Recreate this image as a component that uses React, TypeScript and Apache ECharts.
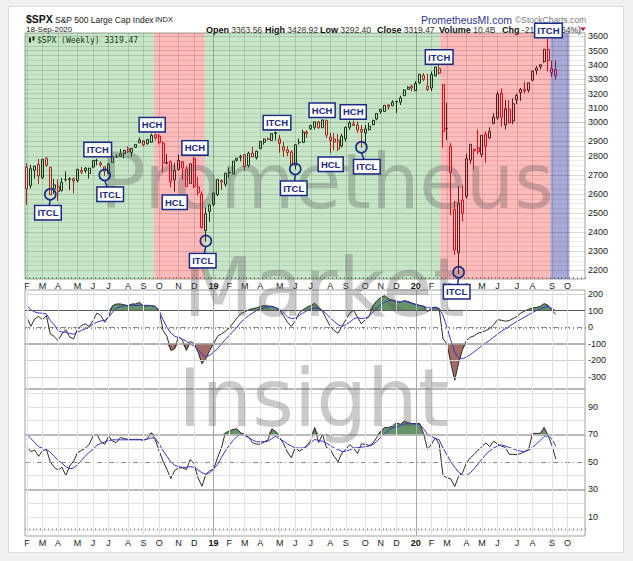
import React, { useEffect, useRef } from "react";
import * as echarts from "echarts";

// ---------------- data: weekly S&P 500 bars, first bar = week ending Fri 9-Feb-2018 ----------------
const FIRST_WEEK_UTC = Date.UTC(2018, 1, 9);
const SLOT_COUNT = 144; // 137 weekly bars + empty future weeks
const PREV_CLOSE = 2762.13; // close of the week before the first bar

const opens = [
  2741, 2637, 2723, 2757, 2681, 2791, 2741, 2619, 2633, 2610,
  2670, 2675, 2675, 2665, 2722, 2735, 2705, 2742, 2780, 2765,
  2743, 2705, 2769, 2801, 2804, 2821, 2849, 2827, 2857, 2884,
  2896, 2879, 2888, 2933, 2926, 2882, 2763, 2773, 2669, 2726,
  2773, 2730, 2649, 2790, 2630, 2590, 2401, 2499, 2535, 2588,
  2658, 2645, 2712, 2702, 2781, 2798, 2814, 2751, 2823, 2796,
  2849, 2888, 2908, 2899, 2941, 2909, 2840, 2842, 2830, 2752,
  2886, 2887, 2951, 2971, 2980, 3014, 2977, 3023, 2898, 2907,
  2901, 2866, 2909, 2980, 3001, 2994, 2967, 2944, 2965, 2996,
  3032, 3078, 3080, 3122, 3117, 3143, 3141, 3183, 3226, 3247,
  3217, 3271, 3321, 3247, 3235, 3318, 3370, 3258, 2974, 2864,
  2509, 2291, 2559, 2578, 2782, 2846, 2855, 2815, 2936, 2914,
  3004, 3039, 3200, 2994, 3094, 3019, 3155, 3205, 3224, 3220,
  3288, 3356, 3381, 3418, 3507, 3370, 3363.56,
];
const highs = [
  2763, 2754, 2748, 2789, 2787, 2802, 2741, 2674, 2672, 2680,
  2717, 2684, 2683, 2733, 2743, 2742, 2737, 2780, 2790, 2775,
  2747, 2764, 2804, 2816, 2848, 2841, 2863, 2855, 2876, 2917,
  2900, 2908, 2941, 2940, 2939, 2894, 2817, 2778, 2766, 2815,
  2776, 2747, 2761, 2800, 2685, 2607, 2520, 2538, 2598, 2675,
  2672, 2709, 2739, 2776, 2794, 2813, 2817, 2831, 2860, 2838,
  2893, 2911, 2918, 2940, 2954, 2931, 2891, 2864, 2841, 2876,
  2911, 2964, 2962, 2996, 3014, 3018, 3028, 3028, 2944, 2943,
  2939, 2940, 2986, 3021, 3022, 3016, 2993, 2993, 3008, 3027,
  3066, 3098, 3120, 3128, 3154, 3150, 3183, 3226, 3248, 3258,
  3282, 3330, 3338, 3333, 3348, 3385, 3394, 3260, 3137, 2883,
  2554, 2637, 2641, 2819, 2879, 2846, 2965, 2932, 2955, 2980,
  3069, 3212, 3233, 3156, 3155, 3166, 3198, 3235, 3279, 3272,
  3353, 3388, 3400, 3509, 3588, 3426, 3428.92,
];
const lows = [
  2533, 2622, 2676, 2647, 2675, 2743, 2586, 2593, 2554, 2605,
  2660, 2612, 2595, 2655, 2701, 2707, 2676, 2735, 2752, 2742,
  2692, 2699, 2765, 2795, 2800, 2791, 2824, 2802, 2853, 2884,
  2864, 2874, 2886, 2903, 2874, 2711, 2755, 2628, 2604, 2722,
  2671, 2631, 2649, 2622, 2583, 2409, 2346, 2444, 2525, 2580,
  2613, 2631, 2682, 2702, 2773, 2775, 2722, 2739, 2800, 2785,
  2848, 2873, 2900, 2898, 2900, 2825, 2801, 2805, 2751, 2729,
  2874, 2883, 2913, 2963, 2966, 2970, 2975, 2914, 2822, 2840,
  2835, 2856, 2892, 2964, 2990, 2946, 2856, 2873, 2959, 2991,
  3023, 3066, 3078, 3091, 3115, 3070, 3122, 3183, 3226, 3212,
  3214, 3263, 3281, 3214, 3214, 3315, 3328, 2856, 2902, 2479,
  2281, 2192, 2447, 2567, 2761, 2727, 2816, 2798, 2767, 2910,
  2999, 3025, 2984, 2966, 3004, 2999, 3127, 3149, 3200, 3204,
  3284, 3327, 3363, 3410, 3350, 3310, 3292.4,
];
const closes = [
  2620, 2732, 2747, 2691, 2787, 2752, 2588, 2641, 2604, 2656,
  2670, 2670, 2663, 2728, 2713, 2721, 2735, 2779, 2779.4, 2755,
  2718, 2760, 2801, 2802, 2819, 2840, 2833, 2850, 2875, 2902,
  2872, 2905, 2930, 2914, 2886, 2767, 2768, 2659, 2723, 2781,
  2736, 2633, 2760, 2633, 2600, 2417, 2486, 2532, 2596, 2671,
  2665, 2707, 2708, 2776, 2793, 2804, 2743, 2822, 2801, 2834,
  2893, 2907, 2905, 2940, 2946, 2881, 2860, 2826, 2752, 2873,
  2887, 2950, 2942, 2990, 3014, 2977, 3026, 2932, 2919, 2889,
  2847, 2926, 2979, 3007, 2992, 2962, 2952, 2970, 2986, 3023,
  3067, 3093, 3120, 3110, 3141, 3146, 3169, 3221, 3240, 3235,
  3265, 3330, 3295, 3226, 3328, 3380, 3338, 2954, 2972, 2711,
  2305, 2541, 2489, 2790, 2875, 2837, 2831, 2930, 2864, 2955,
  3044, 3194, 3041, 3098, 3009, 3130, 3185, 3225, 3216, 3271,
  3351, 3373, 3397, 3508, 3427, 3341, 3319.47,
];

// middle panel oscillator (black) and its signal (blue)
const cciLine = [
  60, 5, 50, 65, 45, 70, -40, -55, -80, -40,
  -15, -60, -70, -10, 10, 20, 5, 40, 85, 70,
  30, 65, 130, 140, 140, 135, 130, 140, 140, 150,
  125, 130, 130, 125, 100, -20, -55, -140, -130, -55,
  -80, -140, -85, -100, -150, -220, -190, -140, -100, -55,
  -40, -25, -5, 25, 55, 82, 92, 105, 112, 116,
  125, 130, 128, 125, 118, 100, 68, 30, 5, 38,
  85, 105, 120, 132, 144, 122, 95, 50, 5, -20,
  -36, 5, 45, 85, 102, 60, 20, 45, 65, 130,
  160, 180, 190, 172, 160, 155, 150, 160, 155, 145,
  138, 132, 126, 92, 114, 122, 110, -70, -100, -215,
  -320, -215, -135, -80, -60, -52, -35, -30, -20, -8,
  14, 45, 42, 36, 40, 52, 65, 85, 98, 108,
  116, 119, 126, 142, 132, 100, 78,
];
const cciSignal = [
  130, 105, 92, 86, 84, 80, 40, 15, -20, -30,
  -30, -38, -42, -30, -20, -10, 0, 20, 30, 38,
  40, 60, 90, 115, 125, 128, 130, 130, 130, 132,
  132, 132, 130, 125, 100, 45, 0, -35, -55, -62,
  -72, -85, -100, -115, -135, -160, -178, -170, -150, -130,
  -100, -75, -50, -25, 0, 30, 50, 70, 85, 100,
  110, 118, 122, 124, 118, 108, 85, 62, 52, 55,
  70, 85, 100, 110, 116, 112, 100, 80, 55, 35,
  15, 5, 15, 30, 50, 58, 52, 55, 65, 90,
  115, 135, 150, 160, 165, 158, 152, 158, 150, 142,
  136, 130, 126, 118, 116, 116, 114, 70, 0, -80,
  -150, -185, -190, -180, -165, -148, -130, -112, -95, -78,
  -60, -42, -25, -10, 5, 20, 35, 48, 62, 75,
  88, 100, 110, 120, 125, 112, 98,
];

// bottom panel oscillator (black) and its signal (blue)
const rsiLine = [
  61, 57.5, 58.5, 54, 58, 59, 50, 46, 44, 46,
  40, 47, 50.5, 56.6, 58.3, 59.8, 62.7, 68.8, 70, 64.6,
  62.7, 68.8, 65, 64, 67.6, 67, 66.3, 66.3, 66.3, 66.3,
  65.6, 67, 71.2, 66.3, 57.8, 50.5, 44.4, 37.8, 43.7, 45.6,
  45.6, 44.4, 51.7, 48.5, 38.3, 32.2, 40.7, 43.7, 44.4, 53,
  60, 71, 72.5, 73.5, 74, 71, 70, 68, 64, 62.8,
  63, 64.5, 66, 74, 72, 67.5, 63, 57, 53, 60.5,
  57.8, 59.5, 62, 65.5, 75, 64, 70, 60.5, 59, 54,
  50, 56.5, 59, 62.5, 60, 56, 63, 62.8, 61.8, 63.5,
  68, 72.5, 75, 75, 76, 78.5, 77.3, 79.5, 78.5, 77.8,
  77.8, 77.8, 70.5, 59, 62.7, 67.5, 63, 40, 38.5, 37.5,
  32, 39.5, 42, 49, 52.8, 55.4, 58.5, 61, 63.8, 61,
  65, 63, 61.5, 60.5, 55.5, 55.4, 55.4, 56, 57.5, 59,
  70.7, 70.7, 70.7, 75, 69, 62, 52,
];
const rsiSignal = [
  70, 67, 64, 61, 60, 59, 57, 54, 51, 49,
  46.5, 45, 45.5, 48, 51, 54, 57, 59, 62, 63.5,
  64.5, 65.5, 66, 66, 66, 66, 66, 66, 66, 66,
  66, 66.5, 67.5, 67, 63, 58, 54, 50, 47.5, 46.5,
  46, 46, 46.5, 46, 44, 42, 41, 42, 45, 48,
  53, 58, 62, 65.5, 68.5, 70, 69, 67.6, 66, 64.6,
  64.6, 64.6, 65, 67, 68.5, 66.5, 65, 63, 61.5, 60.2,
  60, 60, 61, 64, 66.3, 65.5, 65, 63.5, 62, 60,
  59, 57.5, 57.8, 58.5, 60, 60.3, 60.7, 61, 61.5, 62.5,
  65, 68, 70.5, 73, 74.5, 75.5, 76, 77.6, 77.7, 77.6,
  77.5, 77.3, 74, 70, 68.5, 67, 66, 60, 55, 50,
  46, 42.5, 40.5, 39.8, 42, 45, 48.5, 52, 55.4, 58,
  60, 61.5, 62.2, 61.5, 60.5, 59.5, 58.3, 57.8, 57.4, 58.5,
  60.5, 63, 65.5, 68.5, 69, 66.5, 61.5,
];

const priceTicks = [2200, 2300, 2400, 2500, 2600, 2700, 2800, 2900, 3000, 3100, 3200, 3300, 3400, 3500, 3600];
const cciTicks = [200, 100, 0, -100, -200, -300];
const rsiTicks = [90, 70, 50, 30, 10];

// background phases (bar-index boundaries)
const regions = [
  { from: -0.5, to: 32.7, tone: "bull" },
  { from: 32.7, to: 45.7, tone: "bear" },
  { from: 45.7, to: 106.3, tone: "bull" },
  { from: 106.3, to: 134.6, tone: "bear" },
  { from: 134.6, to: 139.5, tone: "watch" },
];

// cycle annotations: box at (bar index, price), optional ring on a bar low
const annotations: { text: string; at: number; price: number; ring?: number; ringPrice?: number }[] = [
  { text: "ITCL", at: 5.4, price: 2492, ring: 6, ringPrice: 2590 },
  { text: "ITCH", at: 18.2, price: 2844 },
  { text: "ITCL", at: 21.4, price: 2590, ring: 20, ringPrice: 2697 },
  { text: "HCH", at: 32.2, price: 2996 },
  { text: "HCL", at: 38.0, price: 2547 },
  { text: "HCH", at: 43.2, price: 2854 },
  { text: "ITCL", at: 45.2, price: 2254, ring: 46, ringPrice: 2349 },
  { text: "ITCH", at: 64.3, price: 3009 },
  { text: "ITCL", at: 68.6, price: 2623, ring: 69, ringPrice: 2731 },
  { text: "HCH", at: 75.9, price: 3088 },
  { text: "HCL", at: 78.1, price: 2758 },
  { text: "HCH", at: 83.9, price: 3077 },
  { text: "ITCL", at: 87.4, price: 2744, ring: 86, ringPrice: 2858 },
  { text: "ITCH", at: 106.0, price: 3452 },
  { text: "ITCL", at: 110.5, price: 2112, ring: 111, ringPrice: 2200 },
  { text: "ITCH", at: 134.1, price: 3649 },
];

// ---------------- styling / layout ----------------
const FONT = '"Liberation Sans", Arial, Helvetica, sans-serif';
const NAVY = "#1b2a83";
const RED = "#d9001f";
const BLACK = "#1a1a1a";
const TONES: Record<string, string> = {
  bull: "rgba(20,150,20,0.24)",
  bear: "rgba(255,25,25,0.30)",
  watch: "rgba(50,50,160,0.42)",
};
const GREEN_FILL = "#66936a";
const BROWN_FILL = "#a56b66";
const SIGNAL_BLUE = "#3535c8";
const OSC_BLACK = "#2b2b2b";

const GRID_LEFT = 25;
const GRID_WIDTH = 560;
const MAIN_TOP = 33;
const MAIN_H = 246;
const CCI_TOP = 290;
const CCI_H = 99;
const RSI_TOP = 389;
const RSI_H = 147;
const PRICE_MIN = 2169;
const PRICE_MAX = 3630;
const CCI_MIN = -372;
const CCI_MAX = 224;
const RSI_MIN = -4;
const RSI_MAX = 103;

const L = Math.log;

const MONTH_LETTERS = "JFMAMJJASOND";
const weekDates: string[] = [];
const monthLabels: string[] = [];
for (let k = 0; k < SLOT_COUNT; k++) {
  const d = new Date(FIRST_WEEK_UTC + k * 7 * 86400000);
  weekDates.push(d.toISOString().slice(0, 10));
  const day = d.getUTCDate();
  if (day >= 5 && day <= 11 && k < SLOT_COUNT - 2) {
    const m = d.getUTCMonth();
    monthLabels.push(m === 0 ? String(d.getUTCFullYear()).slice(2) : MONTH_LETTERS[m]);
  } else {
    monthLabels.push("");
  }
}
const monthIdx = monthLabels.map((s, i) => (s ? i : -1)).filter((i) => i >= 0);
const isYear = (i: number) => /\d/.test(monthLabels[i]);

function buildOption() {
  const rightLabel = (text: string) => ({
    show: true,
    formatter: text,
    position: "end",
    distance: 3,
    fontSize: 9,
    color: "#222",
    fontFamily: FONT,
  });
  const hLine = (v: number, color: string, width = 1, type: any = "solid", label?: string) => ({
    yAxis: v,
    lineStyle: { color, width, type },
    label: label ? rightLabel(label) : { show: false },
  });
  const vLine = (i: number, color: string) => ({
    xAxis: i,
    lineStyle: { color, width: 1, type: "solid" },
    label: { show: false },
  });

  // main panel grid lines
  const mainLines: any[] = [];
  for (let p = 2175; p <= 3625; p += 25) {
    if (p % 100 !== 0) mainLines.push(hLine(L(p), "rgba(0,0,0,0.07)"));
  }
  priceTicks.forEach((p) => mainLines.push(hLine(L(p), "rgba(0,0,0,0.14)", 1, "solid", String(p))));
  monthIdx.forEach((i) => mainLines.push(vLine(i, isYear(i) ? "rgba(0,0,0,0.26)" : "rgba(0,0,0,0.12)")));

  const dashDot = [5, 3, 1, 3];
  const cciLines: any[] = [];
  cciTicks.forEach((v) => {
    if (v === 100) cciLines.push(hLine(v, "#555", 1, "solid", "100"));
    else if (v === -100) cciLines.push(hLine(v, "#9a9a9a", 1.5, "solid", "-100"));
    else if (v === 0) cciLines.push(hLine(v, "#888", 1, dashDot, "0"));
    else cciLines.push(hLine(v, "#d2d2d2", 1, "solid", String(v)));
  });
  monthIdx.forEach((i) => cciLines.push(vLine(i, isYear(i) ? "#a8a8a8" : "#e2e2e2")));

  const rsiLines: any[] = [];
  for (let v = 0; v <= 100; v += 10) {
    const lab = rsiTicks.indexOf(v) >= 0 ? String(v) : undefined;
    if (v === 70 || v === 30) rsiLines.push(hLine(v, "#a4a4a4", 1.5, "solid", lab));
    else if (v === 50) rsiLines.push(hLine(v, "#888", 1, dashDot, lab));
    else rsiLines.push(hLine(v, "#e2e2e2", 1, "solid", lab));
  }
  monthIdx.forEach((i) => rsiLines.push(vLine(i, isYear(i) ? "#a8a8a8" : "#e2e2e2")));

  const candleData = opens.map((o, i) => {
    const c = closes[i];
    const prev = i === 0 ? PREV_CLOSE : closes[i - 1];
    const col = c >= prev ? BLACK : RED;
    return {
      value: [L(o), L(c), L(lows[i]), L(highs[i])],
      itemStyle: { color: "rgba(0,0,0,0)", color0: col, borderColor: col, borderColor0: col, borderWidth: 1 },
    };
  });

  const xAxis = (gridIndex: number, showLabels: boolean, position: string) => ({
    type: "category",
    gridIndex,
    position,
    data: weekDates,
    boundaryGap: true,
    axisLine: { show: false },
    axisTick: { show: true, inside: true, length: 2, interval: 0, lineStyle: { color: "#8a8a8a", width: 1 } },
    axisLabel: {
      show: showLabels,
      interval: (i: number) => monthLabels[i] !== "",
      formatter: (_v: string, i: number) => (isYear(i) ? `{y|${monthLabels[i]}}` : monthLabels[i]),
      margin: 2,
      fontSize: 9,
      color: "#222",
      fontFamily: FONT,
      rich: { y: { fontWeight: "bold", fontSize: 9, color: "#111", fontFamily: FONT } },
    },
    splitLine: { show: false },
  });

  const hidden = { opacity: 0, width: 0 };
  const helper = (xi: number, data: number[], lines: any[]) => ({
    type: "line",
    xAxisIndex: xi,
    yAxisIndex: xi,
    z: 1,
    silent: true,
    data,
    symbol: "none",
    showSymbol: false,
    lineStyle: hidden,
    markLine: { silent: true, symbol: ["none", "none"], label: { show: false }, data: lines },
  });
  const fill = (xi: number, data: number[], origin: number, color: string) => ({
    type: "line",
    xAxisIndex: xi,
    yAxisIndex: xi,
    z: 2,
    silent: true,
    data,
    symbol: "none",
    showSymbol: false,
    lineStyle: hidden,
    areaStyle: { color, opacity: 1, origin },
  });
  const curve = (xi: number, data: number[], color: string, z: number) => ({
    type: "line",
    xAxisIndex: xi,
    yAxisIndex: xi,
    z,
    silent: true,
    data,
    symbol: "none",
    showSymbol: false,
    lineStyle: { color, width: 1 },
  });

  const bandX = (api: any) => {
    const x0 = api.coord([0, L(3000)])[0];
    const bw = api.size([1, 0])[0];
    return (idx: number) => x0 + idx * bw;
  };

  const txt = (x: number, y: number, text: string, font: string, fill: string, extra: any = {}) => ({
    type: "text",
    x,
    y,
    z: 1,
    silent: true,
    style: { text, font, fill, verticalAlign: "middle", ...extra },
  });

  const ohlc = [
    ["Open", "3363.56", 206],
    ["High", "3428.92", 265],
    ["Low", "3292.40", 320],
    ["Close", "3319.47", 377],
    ["Volume", "10.4B", 439],
    ["Chg", "-21.50 (-0.64%)", 502],
  ];

  const WM = "rgba(85,85,85,0.31)";
  const wmFont = (size: number) => `${size}px "DejaVu Sans", Verdana, sans-serif`;

  return {
    animation: false,
    backgroundColor: "#f1f1f1",
    textStyle: { fontFamily: FONT },
    grid: [
      { left: GRID_LEFT, top: MAIN_TOP, width: GRID_WIDTH, height: MAIN_H, show: true, borderColor: "#a0a0a0", borderWidth: 1, backgroundColor: "rgba(0,0,0,0)" },
      { left: GRID_LEFT, top: CCI_TOP, width: GRID_WIDTH, height: CCI_H, show: true, borderColor: "#a0a0a0", borderWidth: 1, backgroundColor: "rgba(0,0,0,0)" },
      { left: GRID_LEFT, top: RSI_TOP, width: GRID_WIDTH, height: RSI_H, show: true, borderColor: "#a0a0a0", borderWidth: 1, backgroundColor: "rgba(0,0,0,0)" },
    ],
    xAxis: [xAxis(0, true, "bottom"), xAxis(1, false, "top"), xAxis(2, true, "bottom")],
    yAxis: [
      { type: "value", gridIndex: 0, min: L(PRICE_MIN), max: L(PRICE_MAX), show: false },
      { type: "value", gridIndex: 1, min: CCI_MIN, max: CCI_MAX, show: false },
      { type: "value", gridIndex: 2, min: RSI_MIN, max: RSI_MAX, show: false },
    ],
    series: [
      helper(0, closes.map(L), mainLines),
      {
        type: "candlestick",
        xAxisIndex: 0,
        yAxisIndex: 0,
        z: 2,
        silent: true,
        barWidth: 2.4,
        data: candleData,
      },
      {
        type: "custom",
        xAxisIndex: 0,
        yAxisIndex: 0,
        z: 3,
        silent: true,
        data: regions.map((_, i) => [i, L(3000)]),
        renderItem: (params: any, api: any) => {
          const r = regions[params.dataIndex];
          const cs = params.coordSys;
          const px = bandX(api);
          const xa = px(r.from);
          const xb = px(r.to);
          return {
            type: "rect",
            shape: { x: xa, y: cs.y, width: xb - xa, height: cs.height },
            style: { fill: TONES[r.tone] },
          };
        },
      },
      {
        type: "custom",
        xAxisIndex: 0,
        yAxisIndex: 0,
        z: 60,
        silent: true,
        data: annotations.map((a) => [Math.round(a.at), L(a.price)]),
        renderItem: (params: any, api: any) => {
          const a = annotations[params.dataIndex];
          const px = bandX(api);
          const bx = px(a.at);
          const by = api.coord([0, L(a.price)])[1];
          const children: any[] = [];
          if (a.ring != null && a.ringPrice != null) {
            const rx = px(a.ring);
            const ry = api.coord([0, L(a.ringPrice)])[1];
            children.push({ type: "line", shape: { x1: rx, y1: ry + 5.5, x2: bx, y2: by }, style: { stroke: NAVY, lineWidth: 1.5 } });
            children.push({ type: "circle", shape: { cx: rx, cy: ry, r: 5.5 }, style: { fill: "none", stroke: NAVY, lineWidth: 1.6 } });
          }
          children.push({
            type: "text",
            x: bx,
            y: by,
            style: {
              text: a.text,
              fill: NAVY,
              font: `bold 9.5px ${FONT}`,
              align: "center",
              verticalAlign: "middle",
              backgroundColor: "#ffffff",
              borderColor: NAVY,
              borderWidth: 1.5,
              padding: [2, 2, 1, 2],
            },
          });
          return { type: "group", children };
        },
      },
      helper(1, cciLine, cciLines),
      fill(1, cciLine.map((v) => Math.max(v, 100)), 100, GREEN_FILL),
      fill(1, cciLine.map((v) => Math.min(v, -100)), -100, BROWN_FILL),
      curve(1, cciLine, OSC_BLACK, 3),
      curve(1, cciSignal, SIGNAL_BLUE, 4),
      helper(2, rsiLine, rsiLines),
      fill(2, rsiLine.map((v) => Math.max(v, 70)), 70, GREEN_FILL),
      curve(2, rsiLine, OSC_BLACK, 3),
      curve(2, rsiSignal, SIGNAL_BLUE, 4),
    ],
    graphic: {
      elements: [
        { type: "rect", z: -100, silent: true, shape: { x: 8.5, y: 6.5, width: 615, height: 546 }, style: { fill: "#ffffff", stroke: "#dcdcdc", lineWidth: 1 } },
        txt(26, 19, "$SPX", `bold 10.5px ${FONT}`, "#111"),
        txt(55, 19.5, "S&P 500 Large Cap Index", `8.5px ${FONT}`, "#222"),
        txt(155, 19.5, "INDX", `7.5px ${FONT}`, "#222"),
        txt(26, 29.7, "18-Sep-2020", `8px ${FONT}`, "#222"),
        ...ohlc.map(([k, v, x]) => ({
          type: "text",
          x: x as number,
          y: 29.7,
          z: 1,
          silent: true,
          style: {
            text: `{b|${k}} ${v}`,
            font: `8.5px ${FONT}`,
            fill: "#333",
            verticalAlign: "middle",
            rich: { b: { fontWeight: "bold", fontSize: 9, fontFamily: FONT, fill: "#111" } },
          },
        })),
        { type: "polygon", z: 1, silent: true, shape: { points: [[580, 27.5], [586, 27.5], [583, 31]] }, style: { fill: "#c8102e" } },
        txt(421, 19.5, "PrometheusMI.com", `10.5px ${FONT}`, "#33338f"),
        txt(515, 19.5, "\u00a9StockCharts.com", `8.5px ${FONT}`, "#777"),
        { type: "rect", z: 5, silent: true, shape: { x: 29, y: 37.5, width: 2, height: 5 }, style: { fill: "#222" } },
        { type: "rect", z: 5, silent: true, shape: { x: 32.5, y: 36.5, width: 2, height: 4 }, style: { fill: "#222" } },
        txt(37, 40, "$SPX (Weekly) 3319.47", '8px "DejaVu Sans Mono", "Liberation Mono", monospace', "#222", { z: 5 }),
        { type: "text", z: 50, silent: true, x: 100, y: 181, style: { text: "Prometheus", font: wmFont(76), fill: WM, verticalAlign: "middle" } },
        { type: "text", z: 50, silent: true, x: 183, y: 287, style: { text: "Market", font: wmFont(82), fill: WM, verticalAlign: "middle" } },
        { type: "text", z: 50, silent: true, x: 178, y: 398, style: { text: "Insight", font: wmFont(80), fill: WM, verticalAlign: "middle" } },
      ],
    },
  };
}

export default function App() {
  const ref = useRef<HTMLDivElement>(null);
  useEffect(() => {
    document.body.style.margin = "0";
    if (!ref.current) return;
    const chart = echarts.init(ref.current, null, { renderer: "svg" });
    chart.setOption(buildOption() as any);
    return () => chart.dispose();
  }, []);
  return <div ref={ref} style={{ width: 633, height: 561 }} />;
}
